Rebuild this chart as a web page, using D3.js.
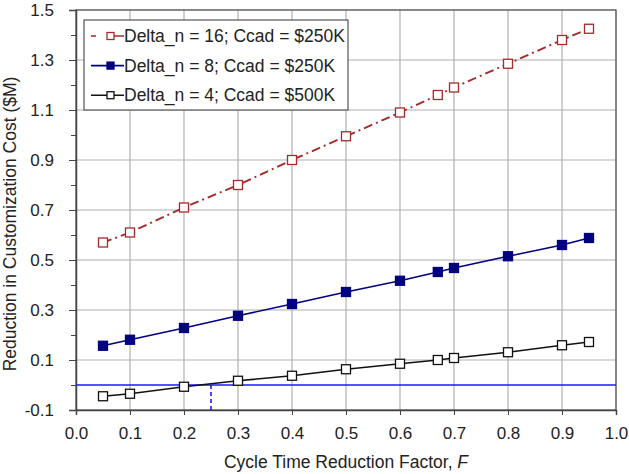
<!DOCTYPE html>
<html>
<head>
<meta charset="utf-8">
<script src="https://cdn.jsdelivr.net/npm/d3@7"></script>
<style>
  body { margin: 0; background: #fff; }
  text { font-family: "Liberation Sans", Arial, sans-serif; fill: #222; }
</style>
</head>
<body>
<svg id="chart" width="629" height="474"></svg>
<script>
const width = 629, height = 474
const margin = {left: 76, right: 13, top: 10, bottom: 64}

// cycle time reduction factor F
const factors = [0.05, 0.1, 0.2, 0.3, 0.4, 0.5, 0.6, 0.67, 0.7, 0.8, 0.9, 0.95]
// reduction in customization cost ($M)
const delta16 = [0.57, 0.61, 0.71, 0.80, 0.90, 0.995, 1.09, 1.16, 1.19, 1.285, 1.38, 1.425]
const delta8 = [0.157, 0.181, 0.228, 0.277, 0.324, 0.372, 0.417, 0.452, 0.468, 0.515, 0.56, 0.588]
const delta4 = [-0.045, -0.035, -0.007, 0.017, 0.037, 0.063, 0.085, 0.10, 0.108, 0.131, 0.159, 0.172]
const seriesNames = ["Delta_n = 16; Ccad = $250K", "Delta_n = 8; Ccad = $250K", "Delta_n = 4; Ccad = $500K"]

const xTicks = [0, 0.1, 0.2, 0.3, 0.4, 0.5, 0.6, 0.7, 0.8, 0.9, 1.0]
const yLabelTicks = [-0.1, 0.1, 0.3, 0.5, 0.7, 0.9, 1.1, 1.3, 1.5]
const yMinorTicks = [0.0, 0.2, 0.4, 0.6, 0.8, 1.0, 1.2, 1.4]
const breakEven = 0.25

const svg = d3.select("#chart")
const x = d3.scaleLinear().domain([0, 1]).range([margin.left, width - margin.right])
const y = d3.scaleLinear().domain([-0.1, 1.5]).range([height - margin.bottom, margin.top])
const fmt = d => d.toFixed(1)

//grid lines
const grid = svg.append("g").attr("stroke", "#b0b0b0").attr("stroke-width", 1.2)
grid.selectAll(".vg").data(xTicks.slice(1)).join("line")
    .attr("x1", d => x(d)).attr("x2", d => x(d))
    .attr("y1", y(1.5)).attr("y2", y(-0.1))
grid.selectAll(".hg").data(yLabelTicks.slice(1)).join("line")
    .attr("x1", x(0)).attr("x2", x(1))
    .attr("y1", d => y(d)).attr("y2", d => y(d))

//frame
svg.append("rect")
    .attr("x", x(0)).attr("y", y(1.5))
    .attr("width", x(1) - x(0)).attr("height", y(-0.1) - y(1.5))
    .attr("fill", "none").attr("stroke", "#555").attr("stroke-width", 1.2)

//axes
const xAxis = svg.append("g").attr("transform", `translate(0,${y(-0.1)})`)
    .call(d3.axisBottom(x).tickValues(xTicks).tickFormat(fmt).tickSize(5).tickPadding(12))
const yAxis = svg.append("g").attr("transform", `translate(${x(0)},0)`)
    .call(d3.axisLeft(y).tickValues(yLabelTicks).tickFormat(fmt).tickSize(7).tickPadding(15))
svg.append("g").attr("transform", `translate(${x(0)},0)`)
    .call(d3.axisLeft(y).tickValues(yMinorTicks).tickFormat("").tickSize(5))
    .select(".domain").remove()
svg.selectAll(".tick line").attr("stroke", "#444")
svg.selectAll(".domain").attr("stroke", "#444").attr("stroke-width", 1.5)
svg.selectAll(".tick text").attr("font-size", 17).style("font-family", "Liberation Sans, Arial, sans-serif").attr("fill", "#222")

//zero line and break-even marker
svg.append("line")
    .attr("x1", x(0)).attr("x2", x(1))
    .attr("y1", y(0)).attr("y2", y(0))
    .attr("stroke", "#1a1aff").attr("stroke-width", 1.6)
svg.append("line")
    .attr("x1", x(breakEven)).attr("x2", x(breakEven))
    .attr("y1", y(0)).attr("y2", y(-0.1))
    .attr("stroke", "#1a1aff").attr("stroke-width", 1.6).attr("stroke-dasharray", "4,3")

const series = [
    {name: seriesNames[0], values: delta16, color: "#a52a2a", fill: "#fff", dash: "9,4,2,4", width: 1.9},
    {name: seriesNames[1], values: delta8, color: "#000080", fill: "#000080", dash: null, width: 1.6},
    {name: seriesNames[2], values: delta4, color: "#111", fill: "#fff", dash: null, width: 1.6}
]
const line = d3.line().x(d => x(d[0])).y(d => y(d[1]))
const ms = 9

for(const s of series){
    const pts = factors.map((f, i) => [f, s.values[i]])
    svg.append("path")
        .attr("d", line(pts))
        .attr("fill", "none")
        .attr("stroke", s.color)
        .attr("stroke-width", s.width)
        .attr("stroke-dasharray", s.dash)
    svg.append("g").selectAll("rect").data(pts).join("rect")
        .attr("x", d => x(d[0]) - ms/2).attr("y", d => y(d[1]) - ms/2)
        .attr("width", ms).attr("height", ms)
        .attr("fill", s.fill).attr("stroke", s.color).attr("stroke-width", 1.3)
}

//legend
const legend = svg.append("g")
legend.append("rect")
    .attr("x", 84).attr("y", 20).attr("width", 264).attr("height", 90)
    .attr("fill", "#fff").attr("stroke", "#555").attr("stroke-width", 1.2)
const lms = 7
series.forEach((s, i) => {
    const ly = 36 + i * 29.6
    legend.append("line")
        .attr("x1", 91).attr("x2", 124).attr("y1", ly).attr("y2", ly)
        .attr("stroke", s.color).attr("stroke-width", 1.6)
        .attr("stroke-dasharray", s.dash ? "5,11,20" : null)
    legend.append("rect")
        .attr("x", 110.5 - lms/2).attr("y", ly - lms/2).attr("width", lms).attr("height", lms)
        .attr("fill", s.fill).attr("stroke", s.color).attr("stroke-width", 1.3)
    legend.append("text")
        .attr("x", 124).attr("y", ly).attr("dy", "0.35em")
        .attr("font-size", 17.5)
        .text(s.name)
})

//axis titles
const xt = svg.append("text")
    .attr("x", x(0.5)).attr("y", 468)
    .attr("text-anchor", "middle").attr("font-size", 17.5)
xt.append("tspan").text("Cycle Time Reduction Factor, ")
xt.append("tspan").attr("font-style", "italic").text("F")

svg.append("text")
    .attr("transform", `translate(16,224) rotate(-90)`)
    .attr("text-anchor", "middle").attr("font-size", 17.5)
    .text("Reduction in Customization Cost ($M)")
</script>
</body>
</html>
